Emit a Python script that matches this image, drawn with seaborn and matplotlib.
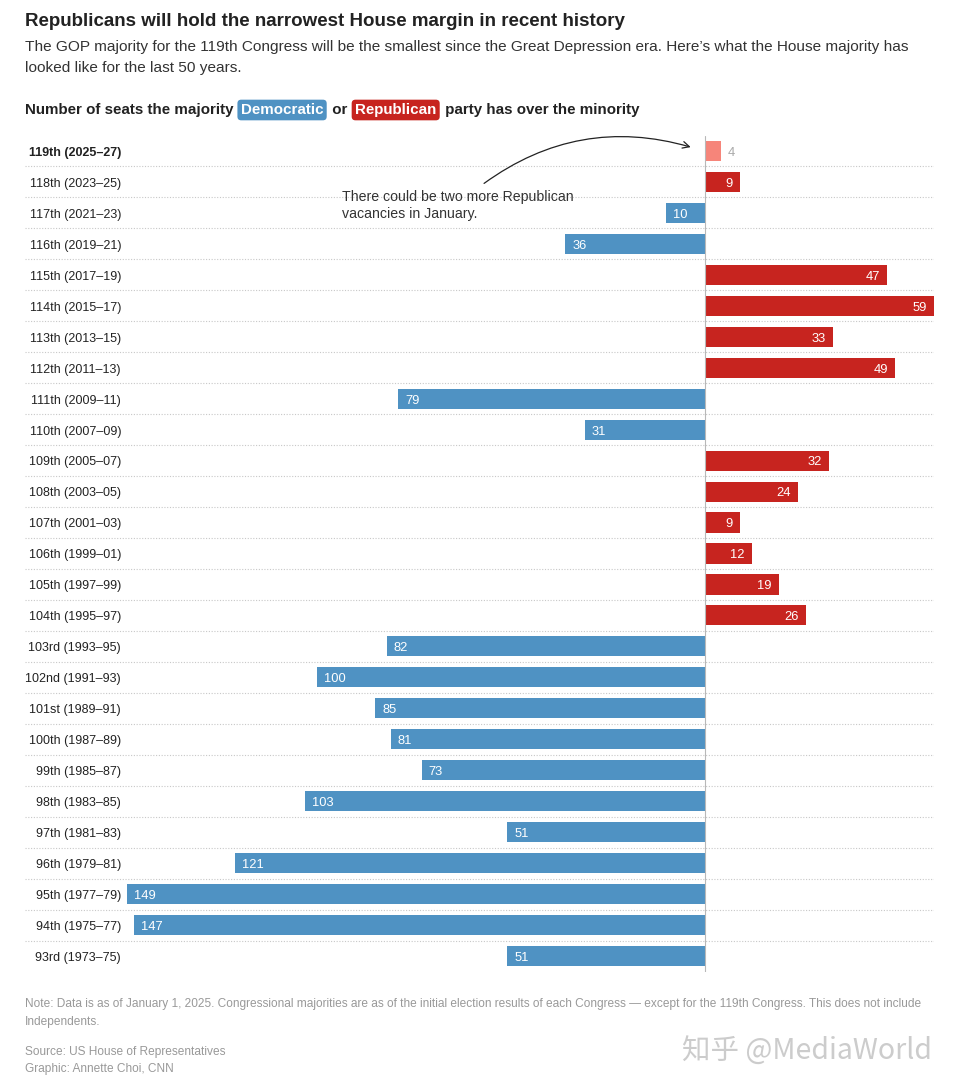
import pandas as pd
import matplotlib.pyplot as plt
import matplotlib.transforms as mtransforms
import seaborn as sns

sns.set_theme(style='white')
plt.rcParams['font.family'] = ['Liberation Sans', 'DejaVu Sans']

congress = ['119th (2025–27)', '118th (2023–25)', '117th (2021–23)', '116th (2019–21)',
            '115th (2017–19)', '114th (2015–17)', '113th (2013–15)', '112th (2011–13)',
            '111th (2009–11)', '110th (2007–09)', '109th (2005–07)', '108th (2003–05)',
            '107th (2001–03)', '106th (1999–01)', '105th (1997–99)', '104th (1995–97)',
            '103rd (1993–95)', '102nd (1991–93)', '101st (1989–91)', '100th (1987–89)',
            '99th (1985–87)', '98th (1983–85)', '97th (1981–83)', '96th (1979–81)',
            '95th (1977–79)', '94th (1975–77)', '93rd (1973–75)']
margin = [4, 9, 10, 36, 47, 59, 33, 49, 79, 31, 32, 24, 9, 12, 19, 26,
          82, 100, 85, 81, 73, 103, 51, 121, 149, 147, 51]
party = ['R (current)', 'R', 'D', 'D', 'R', 'R', 'R', 'R', 'D', 'D', 'R', 'R', 'R', 'R', 'R', 'R',
         'D', 'D', 'D', 'D', 'D', 'D', 'D', 'D', 'D', 'D', 'D']

BLUE = '#4f92c3'
RED = '#c7241f'
SALMON = '#f6857a'
colors = {'D': BLUE, 'R': RED, 'R (current)': SALMON}

df = pd.DataFrame({'congress': congress, 'margin': margin, 'party': party})
df['signed'] = [m if p.startswith('R') else -m for m, p in zip(df['margin'], df['party'])]

W, H = 958, 1092
fig = plt.figure(figsize=(W / 100, H / 100), dpi=100)
ax = fig.add_axes([25 / W, 1 - 971.5 / H, 909 / W, 836 / H])

sns.barplot(data=df, x='signed', y='congress', hue='party', palette=colors,
            dodge=False, width=0.65, orient='h', legend=False, ax=ax,
            saturation=1, linewidth=0)

ax.set_xlim(-175.2, 59)
ax.set_ylim(len(df) - 0.5, -0.5)
ax.axis('off')

# dotted separators between rows
for i in range(len(df) - 1):
    ax.axhline(i + 0.5, color='#c8c8c8', lw=0.8, ls=(0, (1, 1.5)), zorder=0)
ax.axvline(0, color='#b8b8b8', lw=0.8, zorder=3)

dy = 0.06  # nudge text down to sit on the bar centre
trans = mtransforms.blended_transform_factory(ax.transAxes, ax.transData)
for i, row in df.iterrows():
    ax.text(96 / 909, i + dy, row['congress'], transform=trans, ha='right', va='center',
            fontsize=9, color='#222222', fontweight='bold' if i == 0 else 'normal')
    v = row['signed']
    if row['party'] == 'R (current)':
        ax.text(v + 1.8, i + dy, str(row['margin']), ha='left', va='center', fontsize=9.3, color='#aaaaaa')
    elif v > 0:
        ax.text(v - 1.8, i + dy, str(row['margin']), ha='right', va='center', fontsize=9.3, color='white')
    else:
        ax.text(v + 1.8, i + dy, str(row['margin']), ha='left', va='center', fontsize=9.3, color='white')

# annotation
ax.annotate('', xy=(-3, -0.1), xytext=(-57.5, 1.1),
            arrowprops=dict(arrowstyle='->', color='#222222', lw=0.9,
                            connectionstyle='arc3,rad=-0.25'))
ax.text(-93.5, 1.76, 'There could be two more Republican\nvacancies in January.',
        ha='left', va='center', fontsize=10.2, color='#333333', linespacing=1.2)

# header
fig.text(25 / W, 1 - 22 / H, 'Republicans will hold the narrowest House margin in recent history',
         fontsize=13.5, fontweight='bold', color='#222222', va='center')
fig.text(25 / W, 1 - 57.5 / H,
         'The GOP majority for the 119th Congress will be the smallest since the Great Depression era. '
         'Here\u2019s what the House majority has\nlooked like for the last 50 years.',
         fontsize=11.1, color='#333333', va='center', linespacing=1.6)

fig.canvas.draw()
renderer = fig.canvas.get_renderer()
x = 25 / W
pieces = [('Number of seats the majority ', None), ('Democratic', BLUE), (' or ', None),
          ('Republican', RED), (' party has over the minority', None)]
for txt, bg in pieces:
    if bg is None:
        t = fig.text(x, 1 - 110 / H, txt, fontsize=10.9, fontweight='bold', color='#222222', va='center')
    else:
        x += 3 / W
        t = fig.text(x, 1 - 110 / H, txt, fontsize=10.9, fontweight='bold', color='white', va='center',
                     bbox=dict(boxstyle='round,pad=0.22,rounding_size=0.25', fc=bg, ec='none'))
    bb = t.get_window_extent(renderer)
    x += bb.width / W + (5 / W if bg is not None else 0)

# footer
fig.text(25 / W, 1 - 1013 / H,
         'Note: Data is as of January 1, 2025. Congressional majorities are as of the initial election results '
         'of each Congress \u2014 except for the 119th Congress. This does not include\nIndependents.',
         fontsize=8.6, color='#999999', va='center', linespacing=1.6)
fig.text(25 / W, 1 - 1060.5 / H, 'Source: US House of Representatives\nGraphic: Annette Choi, CNN',
         fontsize=8.6, color='#999999', va='center', linespacing=1.6)
fig.text(932 / W, 1 - 1052 / H, '知乎 @MediaWorld', family=['Noto Sans CJK SC', 'DejaVu Sans'],
         fontsize=20.5, fontweight='light', color='#cccccc', ha='right', va='center')

fig.savefig('out.png', dpi=100)
